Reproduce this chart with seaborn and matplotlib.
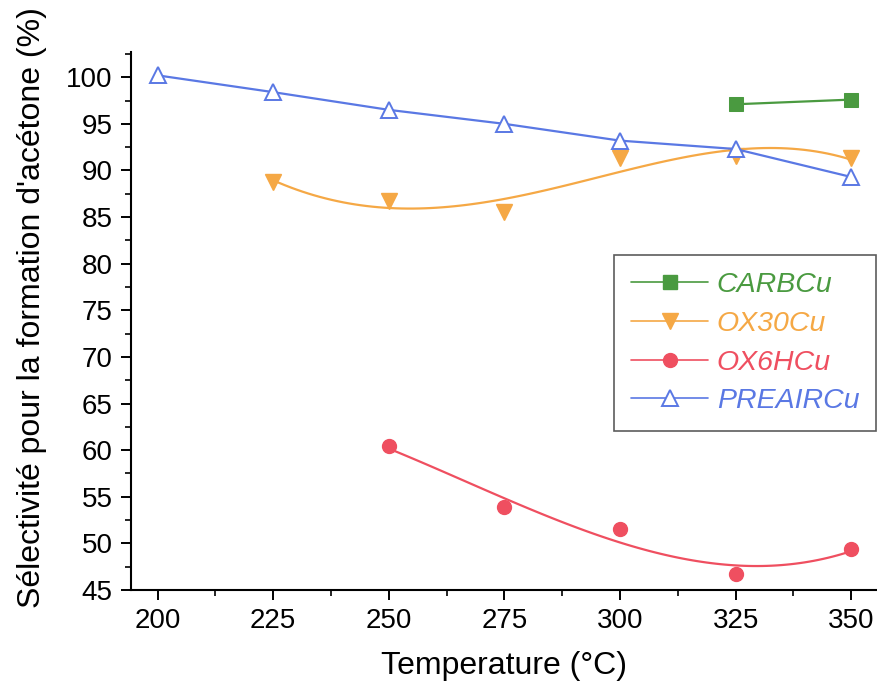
import numpy as np
import pandas as pd
import seaborn as sns
import matplotlib.pyplot as plt
from matplotlib.lines import Line2D
from matplotlib.ticker import MultipleLocator

# data
temp_carb = [325, 350]
sel_carb = [97.1, 97.6]

temp_ox30 = [225, 250, 275, 300, 325, 350]
sel_ox30 = [88.8, 86.7, 85.5, 91.3, 91.5, 91.3]

temp_ox6h = [250, 275, 300, 325, 350]
sel_ox6h = [60.4, 53.9, 51.5, 46.7, 49.4]

temp_preair = [200, 225, 250, 275, 300, 325, 350]
sel_preair = [100.2, 98.4, 96.5, 95.0, 93.2, 92.3, 89.3]

labels = ["CARBCu", "OX30Cu", "OX6HCu", "PREAIRCu"]
colors = ["#4a9a40", "#f5a845", "#ef4f60", "#5a78e4"]

sns.set_style("ticks")
plt.rcParams['font.family'] = ['Liberation Sans', 'DejaVu Sans']
plt.rcParams['text.color'] = 'black'
plt.rcParams['axes.labelcolor'] = 'black'
plt.rcParams['xtick.color'] = 'black'
plt.rcParams['ytick.color'] = 'black'

fig = plt.figure(figsize=(8.78, 6.85), dpi=100)
ax = fig.add_axes([0.149, 0.1387, 0.851, 0.7853])

# CARBCu - straight line
sns.lineplot(x=temp_carb, y=sel_carb, ax=ax, color=colors[0], lw=1.6,
             marker="s", markersize=10, markeredgecolor=colors[0])

# OX30Cu - smoothed curve + markers
sns.regplot(x=temp_ox30, y=sel_ox30, ax=ax, order=4, ci=None, scatter=False,
            color=colors[1], line_kws={"lw": 1.6})
ax.plot(temp_ox30, sel_ox30, ls="none", marker="v", ms=11, color=colors[1])

# OX6HCu - smoothed curve + markers
sns.regplot(x=temp_ox6h, y=sel_ox6h, ax=ax, order=3, ci=None, scatter=False,
            color=colors[2], line_kws={"lw": 1.6})
ax.plot(temp_ox6h, sel_ox6h, ls="none", marker="o", ms=10, color=colors[2])

# PREAIRCu - line with open triangles
sns.lineplot(x=temp_preair, y=sel_preair, ax=ax, color=colors[3], lw=1.6,
             marker="^", markersize=12, markerfacecolor="white",
             markeredgecolor=colors[3], markeredgewidth=1.4)

ax.set_xlim(194.2, 355.8)
ax.set_ylim(45, 102.7)
ax.xaxis.set_major_locator(MultipleLocator(25))
ax.xaxis.set_minor_locator(MultipleLocator(12.5))
ax.yaxis.set_major_locator(MultipleLocator(5))
ax.yaxis.set_minor_locator(MultipleLocator(2.5))

ax.tick_params(which="major", length=7, width=1.4, labelsize=20, pad=6)
ax.tick_params(which="minor", length=4, width=1.2)
for side in ["top", "right"]:
    ax.spines[side].set_visible(False)
for side in ["left", "bottom"]:
    ax.spines[side].set_linewidth(1.5)
    ax.spines[side].set_color("black")

ax.set_xlabel("Temperature (°C)", fontsize=23, labelpad=12)
ax.set_ylabel("Sélectivité pour la formation d'acétone (%)", fontsize=23)
ax.yaxis.set_label_coords(-0.112, 0.525)

handles = [
    Line2D([], [], color=colors[0], lw=1.2, marker="s", ms=10),
    Line2D([], [], color=colors[1], lw=1.2, marker="v", ms=11),
    Line2D([], [], color=colors[2], lw=1.2, marker="o", ms=10),
    Line2D([], [], color=colors[3], lw=1.2, marker="^", ms=12,
           markerfacecolor="white", markeredgewidth=1.4),
]
leg = ax.legend(handles, labels, loc="upper left", bbox_to_anchor=(0.647, 0.623),
                fontsize=20.5, frameon=True, fancybox=False, edgecolor="#333333",
                handlelength=2.7, labelspacing=0.45, borderpad=0.6,
                handletextpad=0.3, borderaxespad=0)
leg.get_frame().set_linewidth(1.2)
for text, c in zip(leg.get_texts(), colors):
    text.set_color(c)
    text.set_fontstyle("italic")

fig.savefig("out.png", dpi=100)
